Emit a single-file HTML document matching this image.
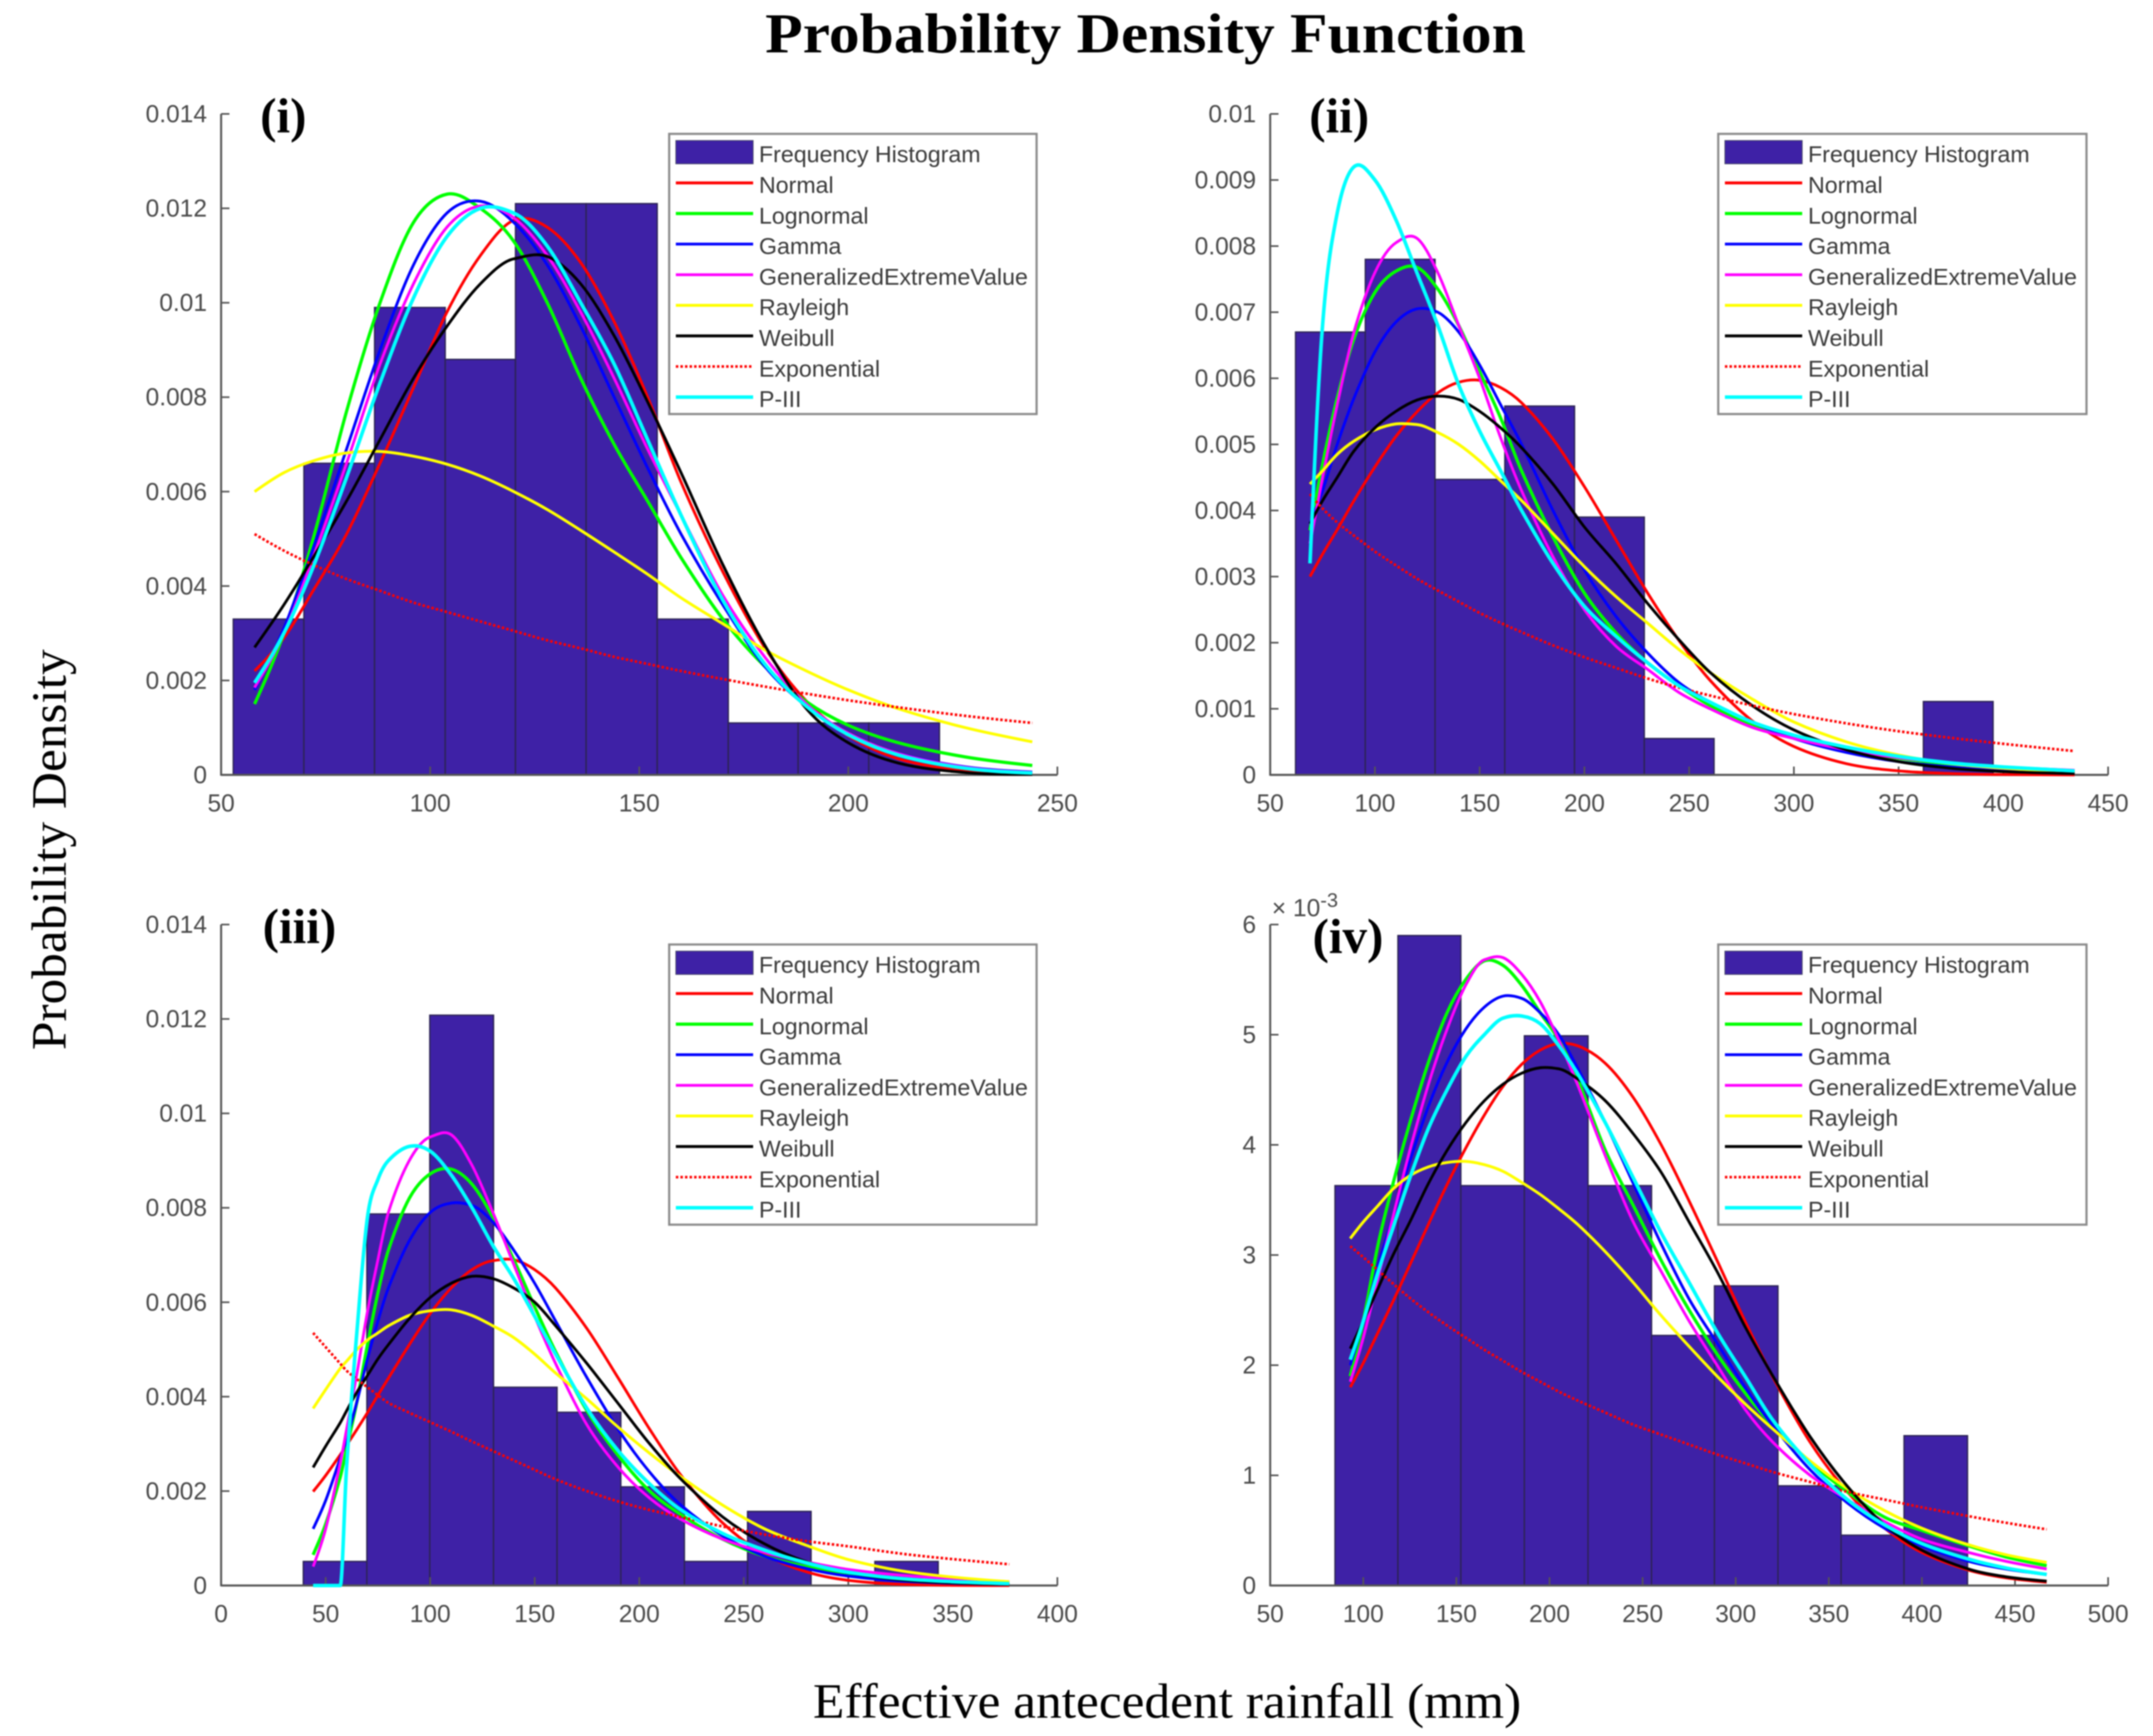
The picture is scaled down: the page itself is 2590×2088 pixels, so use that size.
<!DOCTYPE html>
<html lang="en">
<head>
<meta charset="utf-8">
<title>Probability Density Function</title>
<style>
  html, body { margin: 0; padding: 0; background: #ffffff; }
  #figure { display: block; filter: blur(0.9px); }
  .tick { font-family: "Liberation Sans", sans-serif; font-size: 29.5px; fill: #4a4a4a; }
  .legend-text { font-family: "Liberation Sans", sans-serif; font-size: 27.9px; fill: #3a3a3a; }
  .serif { font-family: "Liberation Serif", serif; fill: #000000; }
</style>
</head>
<body>
<svg id="figure" xmlns="http://www.w3.org/2000/svg" width="2590" height="2088" viewBox="0 0 2590 2088">
  <rect x="0" y="0" width="2590" height="2088" fill="#ffffff"/>
  <text class="serif" x="1378" y="63" font-size="68" font-weight="bold" text-anchor="middle" textLength="915" lengthAdjust="spacingAndGlyphs">Probability Density Function</text>
  <text class="serif" transform="translate(79,1022) rotate(-90)" font-size="59" text-anchor="middle" textLength="482" lengthAdjust="spacingAndGlyphs">Probability Density</text>
  <text class="serif" x="1404" y="2066" font-size="59" text-anchor="middle" textLength="852" lengthAdjust="spacingAndGlyphs">Effective antecedent rainfall (mm)</text>
  <g id="panels"></g>
</svg>
<script>
// ---------- Shared categories ----------
const seriesNames = ['Normal', 'Lognormal', 'Gamma', 'GeneralizedExtremeValue', 'Rayleigh', 'Weibull', 'Exponential', 'P-III'];
const histogramName = 'Frequency Histogram';

// ---------- Panel (i): densities in units of 0.001 ----------
const p1XTicks = [50, 100, 150, 200, 250];
const p1YTicks = [0, 2, 4, 6, 8, 10, 12, 14];
const p1YLabels = ['0', '0.002', '0.004', '0.006', '0.008', '0.01', '0.012', '0.014'];
const p1BinEdges = [52.9, 69.8, 86.7, 103.6, 120.4, 137.3, 154.3, 171.3, 188, 204.9, 221.8];
const p1BinHeights = [3.3, 6.6, 9.9, 8.8, 12.1, 12.1, 3.3, 1.1, 1.1, 1.1];
const p1X = [58, 65, 72, 80, 88, 96, 104, 112, 120, 128, 136, 144, 152, 160, 170, 180, 190, 200, 212, 228, 244];
const p1Normal = [2.2, 2.9, 3.9, 5.1, 6.6, 8.2, 9.8, 11.0, 11.75, 11.6, 10.85, 9.6, 8.0, 6.2, 4.3, 2.7, 1.56, 0.83, 0.34, 0.09, 0.02];
const p1Lognormal = [1.5, 3.0, 5.0, 7.7, 10.0, 11.7, 12.3, 12.0, 11.3, 10.0, 8.4, 7.0, 5.8, 4.6, 3.3, 2.3, 1.55, 1.05, 0.68, 0.38, 0.2];
const p1Gamma = [1.8, 3.1, 4.8, 6.9, 9.0, 10.8, 11.9, 12.15, 11.7, 10.8, 9.5, 8.0, 6.5, 5.1, 3.6, 2.3, 1.45, 0.85, 0.45, 0.17, 0.06];
const p1Gev = [1.85, 3.0, 4.6, 6.6, 8.7, 10.4, 11.6, 12.05, 11.8, 11.0, 9.8, 8.4, 6.9, 5.5, 3.8, 2.5, 1.5, 0.88, 0.45, 0.16, 0.05];
const p1Rayleigh = [6.0, 6.4, 6.65, 6.82, 6.85, 6.75, 6.58, 6.33, 6.0, 5.62, 5.18, 4.72, 4.25, 3.75, 3.2, 2.65, 2.2, 1.8, 1.4, 1.0, 0.7];
const p1Weibull = [2.7, 3.6, 4.6, 5.8, 7.1, 8.4, 9.5, 10.4, 10.93, 10.98, 10.4, 9.3, 7.9, 6.4, 4.45, 2.75, 1.4, 0.68, 0.25, 0.05, 0.01];
const p1Exponential = [5.1, 4.75, 4.45, 4.15, 3.9, 3.65, 3.45, 3.25, 3.05, 2.85, 2.68, 2.5, 2.35, 2.2, 2.03, 1.87, 1.72, 1.58, 1.43, 1.25, 1.1];
const p1PIII = [1.95, 3.0, 4.4, 6.3, 8.3, 10.1, 11.4, 12.0, 11.9, 11.2, 10.0, 8.7, 7.1, 5.5, 3.7, 2.35, 1.45, 0.85, 0.42, 0.14, 0.04];

// ---------- Panel (ii) ----------
const p2XTicks = [50, 100, 150, 200, 250, 300, 350, 400, 450];
const p2YTicks = [0, 1, 2, 3, 4, 5, 6, 7, 8, 9, 10];
const p2YLabels = ['0', '0.001', '0.002', '0.003', '0.004', '0.005', '0.006', '0.007', '0.008', '0.009', '0.01'];
const p2BinEdges = [62.1, 95.4, 128.7, 162, 195.3, 228.6, 261.9, 295.2, 328.5, 361.8, 395.1];
const p2BinHeights = [6.7, 7.8, 4.47, 5.58, 3.9, 0.55, 0, 0, 0, 1.11];
const p2X = [69, 75, 82, 90, 100, 110, 120, 130, 140, 150, 160, 170, 185, 200, 215, 230, 245, 260, 280, 300, 325, 350, 375, 400, 434];
const p2Normal = [3.0, 3.34, 3.71, 4.15, 4.66, 5.12, 5.49, 5.78, 5.94, 5.97, 5.86, 5.63, 5.08, 4.36, 3.56, 2.76, 2.04, 1.43, 0.82, 0.43, 0.17, 0.06, 0.02, 0.005, 0];
const p2Lognormal = [3.7, 4.7, 5.7, 6.6, 7.3, 7.62, 7.68, 7.35, 6.8, 6.1, 5.4, 4.6, 3.6, 2.75, 2.15, 1.7, 1.35, 1.05, 0.75, 0.58, 0.38, 0.25, 0.16, 0.1, 0.05];
const p2Gamma = [3.8, 4.3, 5.0, 5.7, 6.4, 6.85, 7.05, 7.0, 6.7, 6.2, 5.6, 5.0, 4.0, 3.1, 2.4, 1.85, 1.4, 1.1, 0.8, 0.55, 0.34, 0.2, 0.12, 0.07, 0.03];
const p2Gev = [3.5, 4.5, 5.6, 6.7, 7.6, 8.05, 8.12, 7.6, 6.8, 6.0, 5.1, 4.3, 3.3, 2.5, 1.95, 1.6, 1.25, 1.0, 0.72, 0.55, 0.38, 0.26, 0.18, 0.12, 0.07];
const p2Rayleigh = [4.4, 4.6, 4.85, 5.05, 5.22, 5.31, 5.3, 5.18, 5.0, 4.75, 4.45, 4.15, 3.65, 3.15, 2.7, 2.3, 1.9, 1.55, 1.15, 0.8, 0.5, 0.3, 0.17, 0.1, 0.04];
const p2Weibull = [3.8, 4.15, 4.5, 4.9, 5.25, 5.5, 5.67, 5.73, 5.68, 5.5, 5.25, 4.95, 4.4, 3.75, 3.2, 2.6, 2.05, 1.55, 1.05, 0.68, 0.38, 0.2, 0.1, 0.05, 0.02];
const p2Exponential = [4.25, 4.03, 3.82, 3.62, 3.38, 3.17, 2.97, 2.79, 2.62, 2.45, 2.3, 2.16, 1.96, 1.78, 1.62, 1.46, 1.32, 1.2, 1.05, 0.92, 0.78, 0.66, 0.56, 0.47, 0.36];
const p2PIII = [3.2, 6.8, 8.5, 9.2, 9.0, 8.4, 7.6, 6.8, 5.9, 5.2, 4.6, 4.0, 3.2, 2.55, 2.1, 1.7, 1.35, 1.1, 0.8, 0.6, 0.42, 0.28, 0.18, 0.12, 0.06];

// ---------- Panel (iii) ----------
const p3XTicks = [0, 50, 100, 150, 200, 250, 300, 350, 400];
const p3YTicks = [0, 2, 4, 6, 8, 10, 12, 14];
const p3YLabels = ['0', '0.002', '0.004', '0.006', '0.008', '0.01', '0.012', '0.014'];
const p3BinEdges = [39.3, 69.7, 99.8, 130.3, 160.7, 191.2, 221.6, 251.8, 282.2, 312.7, 343];
const p3BinHeights = [0.51, 7.87, 12.08, 4.2, 3.67, 2.09, 0.51, 1.57, 0, 0.51];
const p3X = [44, 50, 57, 60, 65, 70, 75, 80, 90, 100, 110, 120, 130, 140, 150, 160, 175, 190, 205, 220, 240, 260, 280, 300, 330, 377];
const p3Normal = [1.99, 2.33, 2.77, 2.97, 3.31, 3.66, 4.03, 4.39, 5.1, 5.76, 6.3, 6.69, 6.88, 6.9, 6.69, 6.3, 5.44, 4.39, 3.31, 2.33, 1.32, 0.66, 0.29, 0.11, 0.02, 0];
const p3Lognormal = [0.65, 1.3, 2.3, 2.9, 3.9, 5.1, 6.2, 7.1, 8.2, 8.72, 8.82, 8.5, 7.8, 6.9, 5.9, 4.95, 3.7, 2.75, 2.0, 1.5, 0.98, 0.62, 0.4, 0.26, 0.12, 0.04];
const p3Gamma = [1.2, 1.8, 2.7, 3.1, 3.9, 4.8, 5.6, 6.3, 7.3, 7.9, 8.1, 8.05, 7.7, 7.1, 6.4, 5.6, 4.4, 3.3, 2.4, 1.7, 1.05, 0.62, 0.36, 0.2, 0.08, 0.02];
const p3Gev = [0.4, 1.2, 2.6, 3.3, 4.5, 5.8, 6.9, 7.9, 9.0, 9.5, 9.55, 8.9, 7.9, 6.8, 5.7, 4.7, 3.4, 2.5, 1.85, 1.4, 0.98, 0.7, 0.5, 0.34, 0.2, 0.08];
const p3Rayleigh = [3.75, 4.15, 4.6, 4.75, 5.0, 5.2, 5.35, 5.5, 5.72, 5.82, 5.84, 5.72, 5.5, 5.25, 4.9, 4.5, 3.95, 3.35, 2.8, 2.3, 1.7, 1.2, 0.85, 0.55, 0.28, 0.08];
const p3Weibull = [2.5, 2.95, 3.45, 3.7, 4.1, 4.45, 4.8, 5.1, 5.65, 6.1, 6.4, 6.55, 6.5, 6.3, 6.0, 5.5, 4.7, 3.85, 3.0, 2.25, 1.45, 0.88, 0.5, 0.27, 0.1, 0.02];
const p3Exponential = [5.35, 5.05, 4.7, 4.55, 4.37, 4.2, 4.03, 3.87, 3.66, 3.46, 3.26, 3.05, 2.85, 2.65, 2.45, 2.25, 2.0, 1.78, 1.6, 1.45, 1.25, 1.08, 0.94, 0.83, 0.65, 0.45];
const p3PIII = [0, 0, 0, 2.5, 5.4, 7.8, 8.6, 9.0, 9.3, 9.2, 8.7, 8.0, 7.2, 6.5, 5.7, 4.9, 3.75, 2.85, 2.15, 1.6, 1.1, 0.75, 0.48, 0.28, 0.13, 0.04];

// ---------- Panel (iv) ----------
const p4XTicks = [50, 100, 150, 200, 250, 300, 350, 400, 450, 500];
const p4YTicks = [0, 1, 2, 3, 4, 5, 6];
const p4YLabels = ['0', '1', '2', '3', '4', '5', '6'];
const p4BinEdges = [84.8, 118.6, 152.4, 186.5, 220.7, 254.8, 288.6, 322.7, 356.6, 390.4, 424.5];
const p4BinHeights = [3.63, 5.9, 3.63, 4.99, 3.63, 2.27, 2.72, 0.905, 0.457, 1.36];
const p4X = [93, 100, 108, 116, 125, 135, 145, 155, 165, 175, 185, 195, 205, 215, 230, 245, 260, 275, 290, 305, 320, 340, 360, 380, 400, 425, 445, 467];
const p4Normal = [1.8, 2.02, 2.3, 2.58, 2.91, 3.28, 3.64, 3.97, 4.27, 4.53, 4.73, 4.86, 4.92, 4.9, 4.74, 4.43, 4.0, 3.49, 2.95, 2.4, 1.89, 1.3, 0.85, 0.52, 0.3, 0.14, 0.07, 0.03];
const p4Lognormal = [1.9, 2.4, 3.1, 3.65, 4.2, 4.75, 5.2, 5.5, 5.67, 5.63, 5.45, 5.2, 4.95, 4.6, 3.95, 3.45, 2.95, 2.5, 2.1, 1.75, 1.45, 1.12, 0.85, 0.62, 0.5, 0.36, 0.26, 0.18];
const p4Gamma = [2.0, 2.4, 2.9, 3.35, 3.85, 4.35, 4.75, 5.05, 5.25, 5.35, 5.33, 5.2, 5.0, 4.7, 4.2, 3.65, 3.1, 2.6, 2.2, 1.8, 1.45, 1.05, 0.75, 0.52, 0.36, 0.22, 0.15, 0.1];
const p4Gev = [1.85, 2.25, 2.8, 3.35, 3.95, 4.55, 5.05, 5.45, 5.68, 5.7, 5.55, 5.3, 4.95, 4.55, 3.9, 3.3, 2.85, 2.4, 2.0, 1.6, 1.3, 1.0, 0.78, 0.58, 0.42, 0.3, 0.22, 0.15];
const p4Rayleigh = [3.15, 3.3, 3.45, 3.6, 3.72, 3.8, 3.84, 3.85, 3.82, 3.76, 3.66, 3.55, 3.42, 3.28, 3.03, 2.75, 2.45, 2.17, 1.9, 1.65, 1.42, 1.13, 0.88, 0.68, 0.52, 0.37, 0.28, 0.21];
const p4Weibull = [2.15, 2.4, 2.7, 3.0, 3.3, 3.65, 3.95, 4.2, 4.4, 4.55, 4.65, 4.7, 4.69, 4.6, 4.4, 4.1, 3.75, 3.3, 2.85, 2.35, 1.9, 1.35, 0.9, 0.55, 0.32, 0.15, 0.08, 0.04];
const p4Exponential = [3.08, 2.98, 2.86, 2.74, 2.61, 2.48, 2.36, 2.25, 2.14, 2.04, 1.94, 1.85, 1.76, 1.68, 1.57, 1.46, 1.37, 1.28, 1.19, 1.11, 1.03, 0.94, 0.85, 0.78, 0.71, 0.63, 0.57, 0.51];
const p4PIII = [2.05, 2.4, 2.85, 3.25, 3.7, 4.15, 4.5, 4.8, 5.0, 5.15, 5.17, 5.1, 4.9, 4.65, 4.2, 3.7, 3.2, 2.75, 2.3, 1.9, 1.5, 1.1, 0.78, 0.55, 0.38, 0.24, 0.16, 0.1];

// ---------- Rendering ----------
const NS = 'http://www.w3.org/2000/svg';
const seriesColors = ['#ff0000', '#00ff00', '#0000ff', '#ff00ff', '#ffff00', '#000000', '#ff0000', '#00ffff'];
const seriesWidths = [3.4, 3.9, 3.4, 3.4, 3.5, 3.4, 3.2, 4.3];

const panels = [
  { key: 'i', label: '(i)', labelX: 313, labelY: 159, left: 266, right: 1272, top: 137, bottom: 932,
    legendX: 805, legendY: 161, legendW: 442, xMin: 50, xMax: 250, yMax: 14, tickBaseline: 976,
    xTicks: p1XTicks, yTicks: p1YTicks, yLabels: p1YLabels, edges: p1BinEdges, heights: p1BinHeights, xs: p1X,
    series: [p1Normal, p1Lognormal, p1Gamma, p1Gev, p1Rayleigh, p1Weibull, p1Exponential, p1PIII] },
  { key: 'ii', label: '(ii)', labelX: 1575, labelY: 159, left: 1528, right: 2536, top: 137, bottom: 932,
    legendX: 2067, legendY: 161, legendW: 443, xMin: 50, xMax: 450, yMax: 10, tickBaseline: 976,
    xTicks: p2XTicks, yTicks: p2YTicks, yLabels: p2YLabels, edges: p2BinEdges, heights: p2BinHeights, xs: p2X,
    series: [p2Normal, p2Lognormal, p2Gamma, p2Gev, p2Rayleigh, p2Weibull, p2Exponential, p2PIII] },
  { key: 'iii', label: '(iii)', labelX: 316, labelY: 1134, left: 266, right: 1272, top: 1112, bottom: 1907,
    legendX: 805, legendY: 1136, legendW: 442, xMin: 0, xMax: 400, yMax: 14, tickBaseline: 1951,
    xTicks: p3XTicks, yTicks: p3YTicks, yLabels: p3YLabels, edges: p3BinEdges, heights: p3BinHeights, xs: p3X,
    series: [p3Normal, p3Lognormal, p3Gamma, p3Gev, p3Rayleigh, p3Weibull, p3Exponential, p3PIII] },
  { key: 'iv', label: '(iv)', labelX: 1579, labelY: 1146, left: 1528, right: 2536, top: 1112, bottom: 1907,
    legendX: 2067, legendY: 1136, legendW: 443, xMin: 50, xMax: 500, yMax: 6, tickBaseline: 1951,
    xTicks: p4XTicks, yTicks: p4YTicks, yLabels: p4YLabels, edges: p4BinEdges, heights: p4BinHeights, xs: p4X,
    series: [p4Normal, p4Lognormal, p4Gamma, p4Gev, p4Rayleigh, p4Weibull, p4Exponential, p4PIII] }
];

function create(tag, parent, name) {
  const el = document.createElementNS(NS, tag);
  
  
  parent.appendChild(el);
  return el;
}

function line(parent, name, x1, y1, x2, y2, stroke, width) {
  const l = create('line', parent, name);
  l.setAttribute('x1', x1);
  l.setAttribute('y1', y1);
  l.setAttribute('x2', x2);
  l.setAttribute('y2', y2);
  l.setAttribute('stroke', stroke);
  l.setAttribute('stroke-width', width);
  return l;
}

// Smooth cubic path through the sampled points (centred tangents, limited to avoid overshoot)
function smoothPath(px, py) {
  const n = px.length;
  const slopes = [];
  for (let i = 0; i < n - 1; i++) slopes.push((py[i + 1] - py[i]) / (px[i + 1] - px[i]));
  const tangents = new Array(n).fill(0);
  for (let i = 1; i < n - 1; i++) {
    const m0 = slopes[i - 1];
    const m1 = slopes[i];
    let t = (py[i + 1] - py[i - 1]) / (px[i + 1] - px[i - 1]);
    if (m0 === 0 || m1 === 0) {
      t = 0;
    } else if (m0 * m1 > 0) {
      const limit = 3 * Math.min(Math.abs(m0), Math.abs(m1));
      if (Math.abs(t) > limit) t = Math.sign(t) * limit;
    }
    tangents[i] = t;
  }
  tangents[0] = n > 2 ? 1.5 * slopes[0] - 0.5 * tangents[1] : slopes[0];
  tangents[n - 1] = n > 2 ? 1.5 * slopes[n - 2] - 0.5 * tangents[n - 2] : slopes[n - 2];
  let d = 'M' + px[0].toFixed(2) + ' ' + py[0].toFixed(2);
  for (let i = 0; i < n - 1; i++) {
    const h = (px[i + 1] - px[i]) / 3;
    d += ' C' + (px[i] + h).toFixed(2) + ' ' + (py[i] + tangents[i] * h).toFixed(2) +
         ' ' + (px[i + 1] - h).toFixed(2) + ' ' + (py[i + 1] - tangents[i + 1] * h).toFixed(2) +
         ' ' + px[i + 1].toFixed(2) + ' ' + py[i + 1].toFixed(2);
  }
  return d;
}

function drawPanel(p) {
  const root = document.getElementById('panels');
  const g = create('g', root, 'panel-' + p.key);
  const xScale = v => p.left + (v - p.xMin) / (p.xMax - p.xMin) * (p.right - p.left);
  const yScale = v => p.bottom - v / p.yMax * (p.bottom - p.top);

  // Histogram bars
  const barGroup = create('g', g, 'histogram-' + p.key);
  p.heights.forEach((h, i) => {
    if (h <= 0) return;
    const bar = create('rect', barGroup, 'histogram-bar-' + (i + 1));
    bar.setAttribute('x', xScale(p.edges[i]));
    bar.setAttribute('y', yScale(h));
    bar.setAttribute('width', xScale(p.edges[i + 1]) - xScale(p.edges[i]));
    bar.setAttribute('height', p.bottom - yScale(h));
    bar.setAttribute('fill', '#3e21a6');
    bar.setAttribute('stroke', '#2c2452');
    bar.setAttribute('stroke-width', '1.6');
  });

  // Axes and ticks
  const axisColor = '#555555';
  const axes = create('g', g, 'axes-' + p.key);
  line(axes, 'y-axis-line', p.left, p.top, p.left, p.bottom + 1, axisColor, 2.4);
  line(axes, 'x-axis-line', p.left, p.bottom, p.right, p.bottom, axisColor, 2.4);
  p.yTicks.forEach((v, i) => {
    const y = yScale(v);
    line(axes, 'y-tick', p.left, y, p.left + 10, y, axisColor, 2);
    const t = create('text', axes, 'y-tick-label');
    t.setAttribute('class', 'tick');
    t.setAttribute('x', p.left - 17);
    t.setAttribute('y', y + 10);
    t.setAttribute('text-anchor', 'end');
    t.textContent = p.yLabels[i];
  });
  p.xTicks.forEach(v => {
    const x = xScale(v);
    line(axes, 'x-tick', x, p.bottom, x, p.bottom - 10, axisColor, 2);
    const t = create('text', axes, 'x-tick-label');
    t.setAttribute('class', 'tick');
    t.setAttribute('x', x);
    t.setAttribute('y', p.tickBaseline);
    t.setAttribute('text-anchor', 'middle');
    t.textContent = String(v);
  });

  // Fitted density curves
  const curveGroup = create('g', g, 'density-curves-' + p.key);
  const px = p.xs.map(xScale);
  p.series.forEach((values, i) => {
    const path = create('path', curveGroup, 'curve-' + seriesNames[i].toLowerCase());
    path.setAttribute('d', smoothPath(px, values.map(yScale)));
    path.setAttribute('fill', 'none');
    path.setAttribute('stroke', seriesColors[i]);
    path.setAttribute('stroke-width', seriesWidths[i]);
    path.setAttribute('stroke-linejoin', 'round');
    if (seriesNames[i] === 'Exponential') path.setAttribute('stroke-dasharray', '3 2.5');
  });

  // Legend
  const legend = create('g', g, 'legend-' + p.key);
  const box = create('rect', legend, 'legend-box');
  box.setAttribute('x', p.legendX);
  box.setAttribute('y', p.legendY);
  box.setAttribute('width', p.legendW);
  box.setAttribute('height', 337);
  box.setAttribute('fill', '#ffffff');
  box.setAttribute('stroke', '#8a8a8a');
  box.setAttribute('stroke-width', '2.6');
  const hx0 = p.legendX + 8;
  const hx1 = p.legendX + 101;
  const tx = p.legendX + 108;
  const swatch = create('rect', legend, 'legend-swatch-histogram');
  swatch.setAttribute('x', hx0);
  swatch.setAttribute('y', p.legendY + 8);
  swatch.setAttribute('width', hx1 - hx0);
  swatch.setAttribute('height', 28);
  swatch.setAttribute('fill', '#3e21a6');
  swatch.setAttribute('stroke', '#4a4a6a');
  swatch.setAttribute('stroke-width', '1');
  const histLabel = create('text', legend, 'legend-label-histogram');
  histLabel.setAttribute('class', 'legend-text');
  histLabel.setAttribute('x', tx);
  histLabel.setAttribute('y', p.legendY + 34);
  histLabel.textContent = histogramName;
  seriesNames.forEach((name, i) => {
    const rowY = p.legendY + 59 + i * 36.8;
    const sample = line(legend, 'legend-line-' + name.toLowerCase(), hx0, rowY, hx1, rowY, seriesColors[i], seriesWidths[i]);
    if (name === 'Exponential') sample.setAttribute('stroke-dasharray', '3 2.5');
    const label = create('text', legend, 'legend-label-' + name.toLowerCase());
    label.setAttribute('class', 'legend-text');
    label.setAttribute('x', tx);
    label.setAttribute('y', rowY + 12);
    label.textContent = name;
  });

  // Panel letter
  const tag = create('text', g, 'panel-label-' + p.key);
  tag.setAttribute('class', 'serif');
  tag.setAttribute('x', p.labelX);
  tag.setAttribute('y', p.labelY);
  tag.setAttribute('font-size', '59');
  tag.setAttribute('font-weight', 'bold');
  tag.textContent = p.label;
}

panels.forEach(drawPanel);

// Axis exponent for panel (iv)
const exponent = create('text', document.getElementById('panels'), 'y-axis-exponent');
exponent.setAttribute('class', 'tick');
exponent.setAttribute('x', 1530);
exponent.setAttribute('y', 1102);
exponent.setAttribute('font-size', '31');
exponent.textContent = '\u00d7 10';
const exponentPower = create('tspan', exponent, 'y-axis-exponent-power');
exponentPower.setAttribute('dy', '-11');
exponentPower.setAttribute('font-size', '24');
exponentPower.textContent = '-3';
</script>
</body>
</html>
